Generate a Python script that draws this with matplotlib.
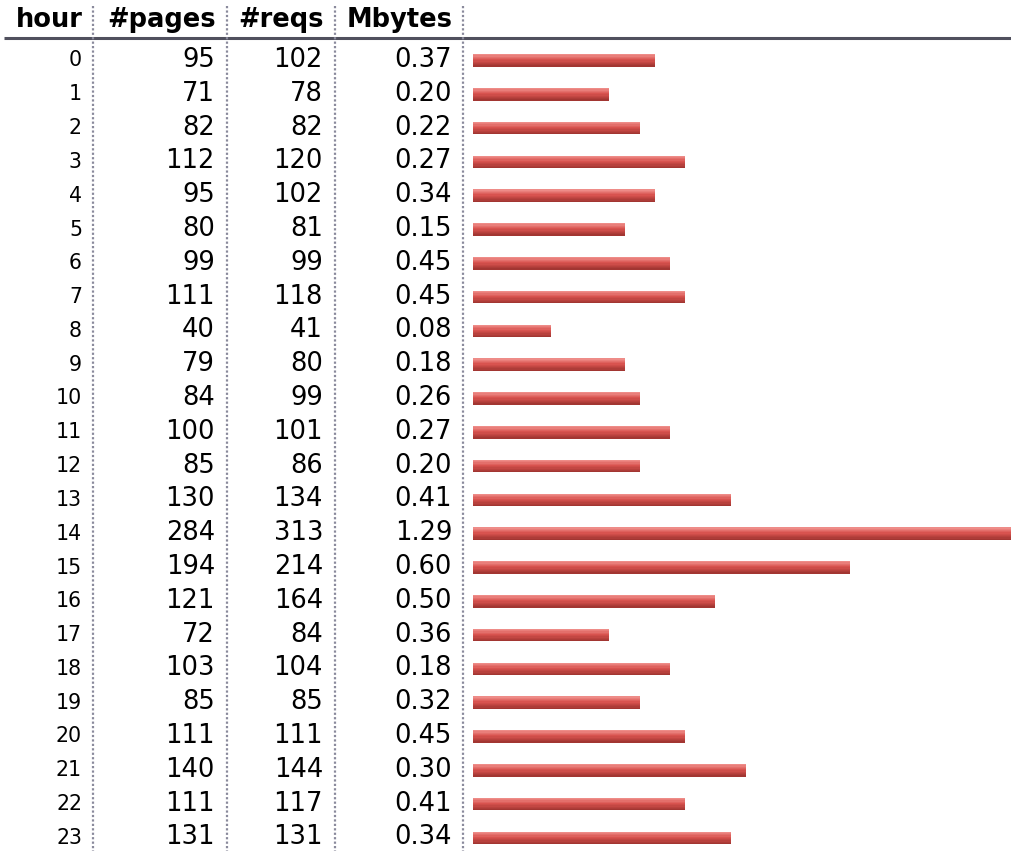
import matplotlib
matplotlib.use("Agg")
import matplotlib.pyplot as plt
import numpy as np
from matplotlib.colors import to_rgb

hours = list(range(24))
pages = [95, 71, 82, 112, 95, 80, 99, 111, 40, 79, 84, 100, 85, 130, 284, 194, 121, 72, 103, 85, 111, 140, 111, 131]
reqs = [102, 78, 82, 120, 102, 81, 99, 118, 41, 80, 99, 101, 86, 134, 313, 214, 164, 84, 104, 85, 111, 144, 117, 131]
mbytes = [0.37, 0.20, 0.22, 0.27, 0.34, 0.15, 0.45, 0.45, 0.08, 0.18, 0.26, 0.27, 0.20, 0.41, 1.29, 0.60, 0.50, 0.36, 0.18, 0.32, 0.45, 0.30, 0.41, 0.34]
# bar lengths as drawn in the picture (in #pages units, quantised)
bar_values = [96, 72, 88, 112, 96, 80, 104, 112, 41, 80, 88, 104, 88, 136, 284, 199, 128, 72, 104, 88, 112, 144, 112, 136]
headers = ["hour", "#pages", "#reqs", "Mbytes"]

W, H = 1011, 851
fig = plt.figure(figsize=(W / 100, H / 100), dpi=100)
ax = fig.add_axes([0, 0, 1, 1])
ax.set_xlim(0, W)
ax.set_ylim(H, 0)
ax.axis("off")

y0, dy = 60.0, 33.8
col_right = [82, 215, 323, 452]
font = "DejaVu Sans"

# headers
for x, h in zip(col_right, headers):
    ax.text(x + 1, 20, h, ha="right", va="center", fontsize=18.5,
            fontweight="bold", family=font, color="black")

# header rule
ax.plot([4, W], [38, 38], color="#50505e", lw=2.2, solid_capstyle="butt")

# dotted separators
for x in [93, 226.5, 334.5, 463]:
    ax.plot([x, x], [6, H], color="#8a8a9c", lw=1.6, linestyle=(0, (1, 1)))

# rows
for i in range(24):
    y = y0 + i * dy
    ax.text(col_right[0], y + 0.5, str(hours[i]), ha="right", va="center",
            fontsize=14.8, family=font, color="black")
    ax.text(col_right[1], y, str(pages[i]), ha="right", va="center",
            fontsize=18.5, family=font, color="black")
    ax.text(col_right[2], y, str(reqs[i]), ha="right", va="center",
            fontsize=18.5, family=font, color="black")
    ax.text(col_right[3], y, f"{mbytes[i]:.2f}", ha="right", va="center",
            fontsize=18.5, family=font, color="black")

# bars
bx0 = 473
bax = fig.add_axes([bx0 / W, 0, (W - bx0) / W, 1])
bax.set_xlim(0, max(bar_values))
bax.set_ylim((H - y0) / dy, -y0 / dy)
bax.axis("off")

bar_h = 12.5 / dy
n_strip = 10
c_top = np.array(to_rgb("#ee8c88"))
c_mid = np.array(to_rgb("#d8524e"))
c_bot = np.array(to_rgb("#a23632"))
idx = np.arange(24)
for k in range(n_strip):
    t = k / (n_strip - 1)
    if t < 0.45:
        c = c_top + (c_mid - c_top) * (t / 0.45)
    else:
        c = c_mid + (c_bot - c_mid) * ((t - 0.45) / 0.55)
    off = -bar_h / 2 + (k + 0.5) * bar_h / n_strip
    bax.barh(idx + off + 0.015, bar_values, height=bar_h / n_strip * 1.02,
             left=0, color=tuple(c), linewidth=0)

fig.savefig("out.png", dpi=100)
